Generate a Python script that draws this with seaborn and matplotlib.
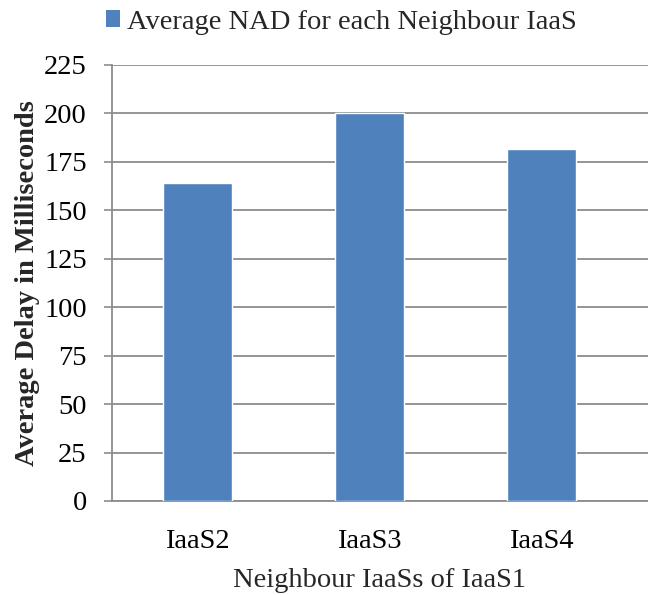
import matplotlib
matplotlib.use("Agg")
import matplotlib.pyplot as plt
import seaborn as sns
import pandas as pd
from matplotlib.patches import Patch

categories = ["IaaS2", "IaaS3", "IaaS4"]
avg_nad = [163.8, 200.0, 181.4]
y_ticks = [0, 25, 50, 75, 100, 125, 150, 175, 200, 225]
series_label = "Average NAD for each Neighbour IaaS"

sns.set_theme(style="white")
plt.rcParams["font.family"] = ["Liberation Serif", "DejaVu Serif"]

df = pd.DataFrame({"neighbour": categories, "delay": avg_nad})

bar_color = "#4F81BD"
grid_color = "#8C8C8C"
fs = 20.5

fig = plt.figure(figsize=(6.48, 5.95), dpi=100)
ax = fig.add_axes([0.1724, 0.158, 0.8276, 0.733])

sns.barplot(data=df, x="neighbour", y="delay", color=bar_color,
            width=0.4, saturation=1, ax=ax, zorder=3)

ax.set_ylim(0, 225)
ax.set_yticks(y_ticks)
ax.set_xlim(-0.5, 2.618)

# category boundary ticks on the x axis
ax.set_xticks([0, 1, 2])
ax.set_xticks([-0.5, 0.5, 1.5], minor=True)
ax.tick_params(axis="x", which="major", length=0, pad=20, labelsize=fs, colors="black")
ax.tick_params(axis="x", which="minor", length=5.5, width=1.2, color=grid_color)
ax.tick_params(axis="y", which="major", length=5.5, width=1.2, color=grid_color,
               pad=12.5, labelsize=fs, labelcolor="black", direction="out", left=True)

ax.yaxis.grid(True, color=grid_color, linewidth=1.3, zorder=0)
ax.set_axisbelow(True)

for side in ["top", "right"]:
    ax.spines[side].set_visible(False)
for side in ["left", "bottom"]:
    ax.spines[side].set_color(grid_color)
    ax.spines[side].set_linewidth(1.3)

ax.set_xlabel("Neighbour IaaSs of IaaS1", fontsize=fs, labelpad=10)
ax.set_ylabel("Average Delay in Milliseconds", fontsize=fs, fontweight="bold", labelpad=3)

handle = Patch(facecolor=bar_color, edgecolor="none")
fig.legend([handle], [series_label], loc="center left",
           bbox_to_anchor=(0.163, 0.963), frameon=False, fontsize=fs,
           handlelength=0.5, handleheight=0.5, handletextpad=0.25,
           borderaxespad=0, borderpad=0)

fig.savefig("out.png", dpi=100)
